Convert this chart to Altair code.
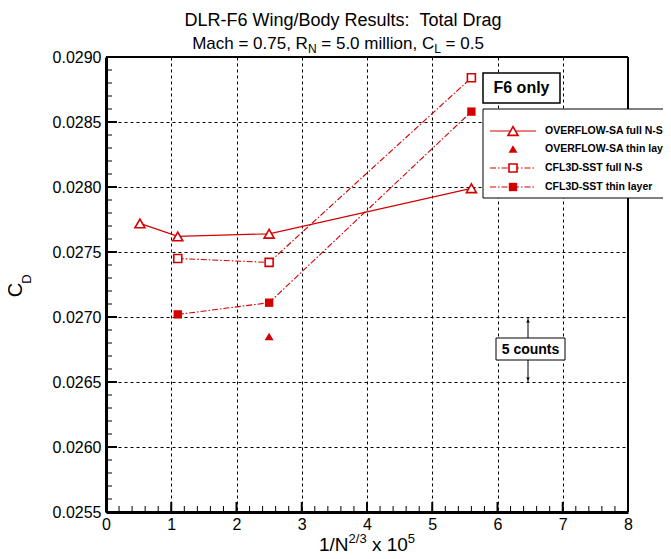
import altair as alt
import pandas as pd
import numpy as np

# ---------------- data ----------------
of_full_x = [0.52, 1.1, 2.5, 5.6]
of_full_cd = [0.02772, 0.02762, 0.02764, 0.02799]
of_thin_x = [2.5]
of_thin_cd = [0.02685]
cfl_full_x = [1.1, 2.5, 5.6]
cfl_full_cd = [0.02745, 0.02742, 0.02884]
cfl_thin_x = [1.1, 2.5, 5.6]
cfl_thin_cd = [0.02702, 0.02711, 0.02858]

x_ticks = [0, 1, 2, 3, 4, 5, 6, 7, 8]
y_ticks = [0.0255, 0.0260, 0.0265, 0.0270, 0.0275, 0.0280, 0.0285, 0.0290]
x_minor = [round(v, 2) for v in np.arange(0, 8.001, 0.2)]
y_minor = [round(v, 5) for v in np.arange(0.0255, 0.02900001, 0.0001)]

legend_labels = ["OVERFLOW-SA full N-S", "OVERFLOW-SA thin layer",
                 "CFL3D-SST full N-S", "CFL3D-SST thin layer"]

# ---------------- style ----------------
RED = "#d40000"
FONT = "Liberation Sans"
W, H = 522, 455
DASHDOT = [6, 2, 1.5, 2]
NB = "\u00a0"
SP = 0.278  # em width of a space

AX_X = alt.Axis(values=x_ticks, format="d", labelFontSize=16, labelFont=FONT,
                labelColor="black", labelPadding=4, ticks=False,
                domainColor="black", domainWidth=3, grid=True,
                gridColor="black", gridDash=[3, 3], gridWidth=1,
                labelFlush=False, labelOverlap=False)
AX_Y = alt.Axis(values=y_ticks, format=".4f", labelFontSize=16, labelFont=FONT,
                labelColor="black", labelPadding=5, ticks=False,
                domainColor="black", domainWidth=3, grid=True,
                gridColor="black", gridDash=[3, 3], gridWidth=1,
                labelOverlap=False)
SX = alt.Scale(domain=[0, 8], nice=False, zero=False)
SY = alt.Scale(domain=[0.0255, 0.0290], nice=False, zero=False)


def xenc(f):
    return alt.X(f"{f}:Q", scale=SX, axis=AX_X, title=None)


def yenc(f):
    return alt.Y(f"{f}:Q", scale=SY, axis=AX_Y, title=None)


ONE = pd.DataFrame({"k": [0]})


def px(x):
    return x - 106


def py(y):
    return y - 57


def txt(s, x, y, size, align="left", baseline="alphabetic", weight="normal", angle=0):
    return alt.Chart(ONE).mark_text(text=s, fontSize=size, font=FONT, align=align,
                                    baseline=baseline, fontWeight=weight, angle=angle,
                                    color="black").encode(x=alt.value(px(x)), y=alt.value(py(y)))


def box(x1, y1, x2, y2, sw=1.0):
    return alt.Chart(ONE).mark_rect(fill="white", stroke="black", strokeWidth=sw).encode(
        x=alt.value(px(x1)), x2=alt.value(px(x2)), y=alt.value(py(y1)), y2=alt.value(py(y2)))


layers = []

# ---------------- data series ----------------
d_off = pd.DataFrame({"x": of_full_x, "cd": of_full_cd})
d_oft = pd.DataFrame({"x": of_thin_x, "cd": of_thin_cd})
d_cff = pd.DataFrame({"x": cfl_full_x, "cd": cfl_full_cd})
d_cft = pd.DataFrame({"x": cfl_thin_x, "cd": cfl_thin_cd})

layers.append(alt.Chart(d_off).mark_line(color=RED, strokeWidth=1.2).encode(x=xenc("x"), y=yenc("cd")))
layers.append(alt.Chart(d_cff).mark_line(color=RED, strokeWidth=1.1, strokeDash=DASHDOT).encode(x=xenc("x"), y=yenc("cd")))
layers.append(alt.Chart(d_cft).mark_line(color=RED, strokeWidth=1.1, strokeDash=DASHDOT).encode(x=xenc("x"), y=yenc("cd")))
layers.append(alt.Chart(d_off).mark_point(shape="triangle-up", size=100, filled=True, fill="white",
                                          stroke=RED, strokeWidth=1.6, opacity=1).encode(x=xenc("x"), y=yenc("cd")))
layers.append(alt.Chart(d_oft).mark_point(shape="triangle-up", size=80, filled=True, color=RED,
                                          opacity=1).encode(x=xenc("x"), y=yenc("cd")))
layers.append(alt.Chart(d_cff).mark_point(shape="square", size=64, filled=True, fill="white",
                                          stroke=RED, strokeWidth=1.6, opacity=1).encode(x=xenc("x"), y=yenc("cd")))
layers.append(alt.Chart(d_cft).mark_point(shape="square", size=70, filled=True, color=RED,
                                          opacity=1).encode(x=xenc("x"), y=yenc("cd")))

# ---------------- inward ticks ----------------
d_xmaj = pd.DataFrame({"t": x_ticks})
d_xmin = pd.DataFrame({"t": x_minor})
d_ymaj = pd.DataFrame({"t": y_ticks})
d_ymin = pd.DataFrame({"t": y_minor})
layers.append(alt.Chart(d_xmin).mark_rule(color="black", strokeWidth=1).encode(
    x=xenc("t"), y=alt.value(H), y2=alt.value(H - 6)))
layers.append(alt.Chart(d_xmaj).mark_rule(color="black", strokeWidth=2).encode(
    x=xenc("t"), y=alt.value(H), y2=alt.value(H - 10)))
layers.append(alt.Chart(d_ymin).mark_rule(color="black", strokeWidth=1).encode(
    y=yenc("t"), x=alt.value(0), x2=alt.value(6)))
layers.append(alt.Chart(d_ymaj).mark_rule(color="black", strokeWidth=2).encode(
    y=yenc("t"), x=alt.value(0), x2=alt.value(11)))

# ---------------- frame (top / right) ----------------
layers.append(alt.Chart(ONE).mark_rule(color="black", strokeWidth=2).encode(
    x=alt.value(0), x2=alt.value(W), y=alt.value(0)))
layers.append(alt.Chart(ONE).mark_rule(color="black", strokeWidth=2).encode(
    x=alt.value(W), y=alt.value(0), y2=alt.value(H)))

# ---------------- titles ----------------
layers.append(txt("DLR-F6 Wing/Body Results:" + NB + NB + "Total Drag", 343, 26, 18, align="center"))
# subtitle with subscripts
fs, fss = 17, 12
w1 = 6.809 * fs                 # "Mach = 0.75, R"
w2 = 0.722 * fss                # "N"
w3 = (6.919 - SP) * fs          # "= 5.0 million, C"
w4 = 0.556 * fss                # "L"
w5 = (2.530 - SP) * fs          # "= 0.5"
sp = SP * fs
tot = w1 + w2 + sp + w3 + w4 + sp + w5
x0 = 338 - tot / 2
xa = x0
xb = xa + w1
xc = xb + w2 + sp
xd = xc + w3
xe = xd + w4 + sp
layers.append(txt("Mach = 0.75, R", xa, 49, fs))
layers.append(txt("N", xb, 53, fss))
layers.append(txt("= 5.0 million, C", xc, 49, fs))
layers.append(txt("L", xd, 53, fss))
layers.append(txt("= 0.5", xe, 49, fs))

# x axis title: 1/N^{2/3} x 10^5
xt, xs = 19, 13
a1 = 1.556 * xt      # "1/N"
a2 = 1.390 * xs      # "2/3"
a3 = 1.890 * xt      # "x 10"
a4 = 0.556 * xs      # "5"
spx = SP * xt
tot = a1 + a2 + spx + a3 + a4
xs0 = 367 - tot / 2
layers.append(txt("1/N", xs0, 551, xt))
layers.append(txt("2/3", xs0 + a1, 543, xs))
layers.append(txt("x 10", xs0 + a1 + a2 + spx, 551, xt))
layers.append(txt("5", xs0 + a1 + a2 + spx + a3, 543, xs))

# y axis title: C_D
layers.append(txt("C", 16, 290, 20, align="center", baseline="middle", angle=270))
layers.append(txt("D", 27, 279, 13, align="center", baseline="middle", angle=270))

# ---------------- annotations ----------------
layers.append(box(483, 73, 560, 103, sw=1.5))
layers.append(txt("F6 only", 521.5, 88, 16, align="center", baseline="middle", weight="bold"))

# 5 counts arrow
layers.append(alt.Chart(ONE).mark_rule(color="black", strokeWidth=1).encode(
    x=alt.value(px(528)), y=alt.value(py(318)), y2=alt.value(py(382))))
layers.append(alt.Chart(ONE).mark_point(shape="triangle-up", size=14, filled=True, color="black", opacity=1).encode(
    x=alt.value(px(528)), y=alt.value(py(321))))
layers.append(alt.Chart(ONE).mark_point(shape="triangle-down", size=14, filled=True, color="black", opacity=1).encode(
    x=alt.value(px(528)), y=alt.value(py(379))))
layers.append(box(496, 338, 565, 360, sw=1))
layers.append(txt("5 counts", 530.5, 349.5, 14, align="center", baseline="middle", weight="bold"))

# legend
layers.append(box(483, 109, 720, 198, sw=1))
rows = [131, 149, 168, 187]
layers.append(alt.Chart(ONE).mark_rule(color=RED, strokeWidth=1.2).encode(
    x=alt.value(px(490)), x2=alt.value(px(536)), y=alt.value(py(rows[0]))))
layers.append(alt.Chart(ONE).mark_point(shape="triangle-up", size=100, filled=True, fill="white",
                                        stroke=RED, strokeWidth=1.6, opacity=1).encode(
    x=alt.value(px(513)), y=alt.value(py(rows[0]))))
layers.append(alt.Chart(ONE).mark_point(shape="triangle-up", size=80, filled=True, color=RED, opacity=1).encode(
    x=alt.value(px(513)), y=alt.value(py(rows[1]))))
layers.append(alt.Chart(ONE).mark_rule(color=RED, strokeWidth=1.1, strokeDash=DASHDOT).encode(
    x=alt.value(px(490)), x2=alt.value(px(536)), y=alt.value(py(rows[2]))))
layers.append(alt.Chart(ONE).mark_point(shape="square", size=64, filled=True, fill="white",
                                        stroke=RED, strokeWidth=1.6, opacity=1).encode(
    x=alt.value(px(513)), y=alt.value(py(rows[2]))))
layers.append(alt.Chart(ONE).mark_rule(color=RED, strokeWidth=1.1, strokeDash=DASHDOT).encode(
    x=alt.value(px(490)), x2=alt.value(px(536)), y=alt.value(py(rows[3]))))
layers.append(alt.Chart(ONE).mark_point(shape="square", size=70, filled=True, color=RED, opacity=1).encode(
    x=alt.value(px(513)), y=alt.value(py(rows[3]))))
for lab, ry in zip(legend_labels, rows):
    layers.append(txt(lab, 545, ry, 10.5, baseline="middle", weight="bold"))

chart = alt.layer(*layers).properties(
    width=W, height=H,
    padding={"left": 98, "top": 49, "right": 35, "bottom": 39},
    autosize=alt.AutoSizeParams(type="none"),
).configure_view(stroke="transparent")

chart.save("out.html", embed_options={"renderer": "svg", "actions": False})
